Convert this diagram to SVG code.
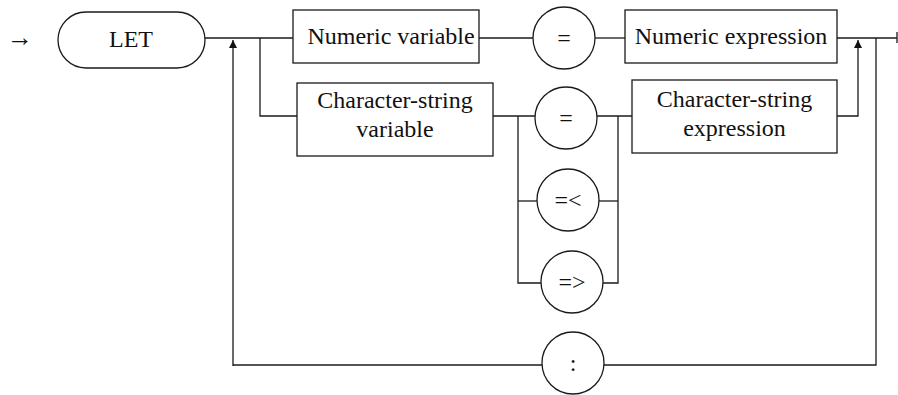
<svg xmlns="http://www.w3.org/2000/svg" width="898" height="395" viewBox="0 0 898 395">
<style>
.n{fill:none;stroke:#1a1a1a;stroke-width:1.3}
.c{fill:none;stroke:#1a1a1a;stroke-width:1.3}
.t{font-family:'Liberation Serif','Times New Roman',Times,serif;font-size:24px;fill:#111;text-anchor:middle}
</style>
<defs>
<marker id="ah" viewBox="0 0 10 10" refX="10" refY="5" markerWidth="8" markerHeight="8" markerUnits="userSpaceOnUse" orient="auto">
<path d="M0,0 L10,5 L0,10 z" fill="#111"/>
</marker>
</defs>
<g id="connectors">
<path class="c" d="M205,38 H293"/>
<path class="c" d="M233,366 V40" marker-end="url(#ah)"/>
<path class="c" d="M260,38 V116 H297"/>
<path class="c" d="M479,38 H533"/>
<path class="c" d="M595,38 H625"/>
<path class="c" d="M837,38 H897"/>
<path class="c" d="M897,32 V43"/>
<path class="c" d="M493,116 H535"/>
<path class="c" d="M518,116 V283 H541"/>
<path class="c" d="M518,201 H537"/>
<path class="c" d="M597,116 H632"/>
<path class="c" d="M618,116 V283 H603"/>
<path class="c" d="M599,201 H618"/>
<path class="c" d="M837,116 H858 V40" marker-end="url(#ah)"/>
<path class="c" d="M876,38 V365 H604"/>
<path class="c" d="M542,365 H233"/>
</g>
<g class="t" font-family="Liberation Serif, serif">
<g id="start"><text x="20" y="46" font-size="26">→</text></g>
<g id="let"><rect class="n" x="58" y="12" width="147" height="56" rx="28"/><text x="131" y="47">LET</text></g>
<g id="numvar"><rect class="n" x="293" y="10" width="186" height="53"/><text x="391" y="44">Numeric variable</text></g>
<g id="eq1"><circle class="n" cx="564" cy="38" r="31"/><text x="564" y="46">=</text></g>
<g id="numexpr"><rect class="n" x="625" y="10" width="212" height="53"/><text x="731" y="44">Numeric expression</text></g>
<g id="charvar"><rect class="n" x="297" y="83" width="196" height="73"/><text x="395" y="108">Character-string</text><text x="395" y="137">variable</text></g>
<g id="eq2"><circle class="n" cx="566" cy="118" r="31"/><text x="566" y="126">=</text></g>
<g id="charexpr"><rect class="n" x="632" y="80" width="205" height="73"/><text x="734.5" y="107">Character-string</text><text x="734.5" y="136">expression</text></g>
<g id="le"><circle class="n" cx="568" cy="200" r="31"/><text x="568" y="208">=&lt;</text></g>
<g id="ge"><circle class="n" cx="572" cy="282" r="31"/><text x="572" y="290">=&gt;</text></g>
<g id="colon"><circle class="n" cx="573" cy="363" r="31"/><text x="573" y="371">:</text></g>
</g>
</svg>
